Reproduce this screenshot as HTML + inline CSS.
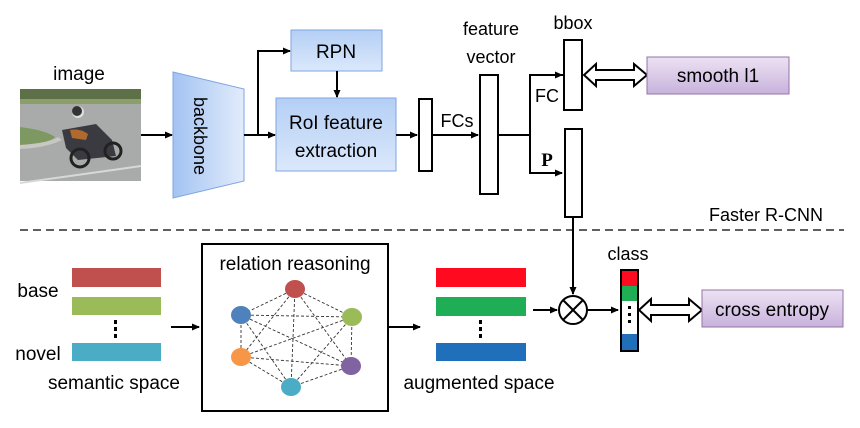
<!DOCTYPE html>
<html><head><meta charset="utf-8"><style>
html,body{margin:0;padding:0;background:#fff}
svg{display:block}
text{font-family:"Liberation Sans",sans-serif;fill:#000}
</style></head><body>
<svg width="860" height="428" viewBox="0 0 860 428" xmlns="http://www.w3.org/2000/svg">
<defs>
<linearGradient id="bl" x1="0" y1="0" x2="0" y2="1"><stop offset="0" stop-color="#b4cff5"/><stop offset="1" stop-color="#dbe8fb"/></linearGradient>
<linearGradient id="bb" x1="0" y1="0" x2="1" y2="0"><stop offset="0" stop-color="#a3c3f2"/><stop offset="1" stop-color="#e2ecfb"/></linearGradient>
<linearGradient id="pu" x1="0" y1="0" x2="0" y2="1"><stop offset="0" stop-color="#ece2f3"/><stop offset="1" stop-color="#c8b2dc"/></linearGradient>
<marker id="ah" markerWidth="8" markerHeight="8" refX="7" refY="4" orient="auto" markerUnits="userSpaceOnUse"><path d="M0,0.5 L8,4 L0,7.5 Z" fill="#000"/></marker>
</defs>

<!-- photo -->
<rect x="20" y="89" width="121" height="92" fill="#a9abab"/>
<rect x="20" y="89" width="121" height="12" fill="#5d7048"/>
<rect x="20" y="99" width="121" height="5" fill="#8c9f6b"/>
<path d="M20,127 Q45,130 55,137 Q50,143 20,145 Z" fill="#7d9860"/>
<path d="M20,145 Q50,143 58,137 L62,140 Q45,148 20,149 Z" fill="#c9c7c2"/>
<path d="M20,182 L141,165 L141,167 L20,184 Z" fill="#d8d8d8"/>
<path d="M62,130 L96,124 L112,140 L116,156 L78,160 L66,148 Z" fill="#3a3a40"/>
<circle cx="78" cy="112" r="6" fill="#ddd"/>
<circle cx="77" cy="111" r="5" fill="#333"/>
<path d="M70,130 Q80,128 88,134 L86,140 L72,138 Z" fill="#b06a30"/>
<circle cx="80" cy="158" r="9" fill="none" stroke="#222" stroke-width="3"/>
<circle cx="113" cy="151" r="8" fill="none" stroke="#222" stroke-width="3"/>

<text x="79" y="80" font-size="19" text-anchor="middle">image</text>
<line x1="141" y1="135" x2="172" y2="135" stroke="#000" stroke-width="2" marker-end="url(#ah)"/>

<!-- backbone -->
<polygon points="173,72 244,89 244,181 173,198" fill="url(#bb)" stroke="#7ea6e0" stroke-width="1"/>
<text x="0" y="0" font-size="18" text-anchor="middle" transform="translate(194,136) rotate(90)">backbone</text>

<path d="M244,135 L275,135" stroke="#000" stroke-width="2" fill="none" marker-end="url(#ah)"/>
<path d="M258,135 L258,51 L290,51" stroke="#000" stroke-width="2" fill="none" marker-end="url(#ah)"/>

<rect x="291" y="30" width="91" height="41" fill="url(#bl)" stroke="#7ea6e0"/>
<text x="336" y="58" font-size="19" text-anchor="middle">RPN</text>
<line x1="337" y1="71" x2="337" y2="97" stroke="#000" stroke-width="2" marker-end="url(#ah)"/>
<rect x="276" y="98" width="120" height="73" fill="url(#bl)" stroke="#7ea6e0"/>
<text x="336" y="129" font-size="19" text-anchor="middle">RoI feature</text>
<text x="336" y="157" font-size="19" text-anchor="middle">extraction</text>

<line x1="396" y1="135" x2="417" y2="135" stroke="#000" stroke-width="2" marker-end="url(#ah)"/>
<rect x="419" y="99" width="13" height="72" fill="#fff" stroke="#000" stroke-width="2"/>
<text x="457" y="127" font-size="18" text-anchor="middle">FCs</text>
<line x1="432" y1="135" x2="478" y2="135" stroke="#000" stroke-width="2" marker-end="url(#ah)"/>
<text x="491" y="35" font-size="18" text-anchor="middle">feature</text>
<text x="491" y="63" font-size="18" text-anchor="middle">vector</text>
<rect x="480" y="75" width="18" height="119" fill="#fff" stroke="#000" stroke-width="2"/>
<line x1="498" y1="135" x2="530" y2="135" stroke="#000" stroke-width="2"/>
<path d="M563,75 L530,75 L530,173 L562,173" stroke="#000" stroke-width="2" fill="none"/>
<path d="M540,75 L562,75" stroke="#000" stroke-width="2" marker-end="url(#ah)"/>
<path d="M540,173 L562,173" stroke="#000" stroke-width="2" marker-end="url(#ah)"/>
<text x="573" y="29" font-size="18" text-anchor="middle">bbox</text>
<rect x="564" y="40" width="18" height="70" fill="#fff" stroke="#000" stroke-width="2"/>
<text x="547" y="102" font-size="18" text-anchor="middle">FC</text>
<text x="547" y="166" font-size="19" font-weight="bold" text-anchor="middle" style="font-family:'Liberation Serif',serif">P</text>
<rect x="565" y="129" width="17" height="88" fill="#fff" stroke="#000" stroke-width="2"/>

<!-- double arrow top -->
<polygon points="584,75 596,64 596,70 634,70 634,64 647,75 634,86 634,80 596,80 596,86" fill="#fff" stroke="#000" stroke-width="2" stroke-linejoin="miter"/>
<rect x="647" y="57" width="142" height="37" fill="url(#pu)" stroke="#9673a6"/>
<text x="718" y="82" font-size="19" text-anchor="middle">smooth l1</text>

<!-- dashed -->
<line x1="20" y1="230" x2="844" y2="230" stroke="#000" stroke-width="1.3" stroke-dasharray="8,5"/>
<text x="766" y="221" font-size="18" text-anchor="middle">Faster R-CNN</text>

<!-- semantic -->
<rect x="72" y="268" width="89" height="19" fill="#c0504d"/>
<rect x="72" y="297" width="89" height="18" fill="#9bbb59"/>
<rect x="72" y="343" width="89" height="18" fill="#4bacc6"/>
<rect x="114" y="320" width="3" height="4" fill="#000"/><rect x="114" y="327" width="3" height="4" fill="#000"/><rect x="114" y="334" width="3" height="4" fill="#000"/>
<text x="38" y="297" font-size="19" text-anchor="middle">base</text>
<text x="38" y="360" font-size="19" text-anchor="middle">novel</text>
<text x="114" y="389" font-size="19" text-anchor="middle">semantic space</text>
<line x1="171" y1="327" x2="199" y2="327" stroke="#000" stroke-width="2" marker-end="url(#ah)"/>

<!-- relation box -->
<rect x="202" y="244" width="186" height="167" fill="#fff" stroke="#000" stroke-width="2"/>
<text x="295" y="270" font-size="19" text-anchor="middle">relation reasoning</text>
<g stroke="#333" stroke-width="0.9" stroke-dasharray="3,2">
<line x1="295" y1="289" x2="241" y2="315"/><line x1="295" y1="289" x2="352" y2="317"/><line x1="295" y1="289" x2="241" y2="357"/><line x1="295" y1="289" x2="351" y2="366"/><line x1="295" y1="289" x2="291" y2="387"/>
<line x1="241" y1="315" x2="352" y2="317"/><line x1="241" y1="315" x2="241" y2="357"/><line x1="241" y1="315" x2="351" y2="366"/><line x1="241" y1="315" x2="291" y2="387"/>
<line x1="352" y1="317" x2="241" y2="357"/><line x1="352" y1="317" x2="351" y2="366"/><line x1="352" y1="317" x2="291" y2="387"/>
<line x1="241" y1="357" x2="351" y2="366"/><line x1="241" y1="357" x2="291" y2="387"/>
<line x1="351" y1="366" x2="291" y2="387"/>
</g>
<ellipse cx="295" cy="289" rx="10" ry="9" fill="#c0504d"/>
<ellipse cx="241" cy="315" rx="10" ry="9" fill="#4f81bd"/>
<ellipse cx="352" cy="317" rx="10" ry="9" fill="#9bbb59"/>
<ellipse cx="241" cy="357" rx="10" ry="9" fill="#f79646"/>
<ellipse cx="351" cy="366" rx="10" ry="9" fill="#8064a2"/>
<ellipse cx="291" cy="387" rx="10" ry="9" fill="#4bacc6"/>
<line x1="389" y1="327" x2="420" y2="327" stroke="#000" stroke-width="2" marker-end="url(#ah)"/>

<!-- augmented -->
<rect x="436" y="268" width="90" height="19" fill="#ff0a1e"/>
<rect x="436" y="297" width="90" height="19" fill="#1fae55"/>
<rect x="436" y="343" width="90" height="18" fill="#1f6fba"/>
<rect x="479" y="320" width="3" height="4" fill="#000"/><rect x="479" y="327" width="3" height="4" fill="#000"/><rect x="479" y="334" width="3" height="4" fill="#000"/>
<text x="479" y="389" font-size="19" text-anchor="middle">augmented space</text>
<line x1="533" y1="310" x2="557" y2="310" stroke="#000" stroke-width="2" marker-end="url(#ah)"/>

<line x1="573" y1="217" x2="573" y2="294" stroke="#000" stroke-width="2" marker-end="url(#ah)"/>
<circle cx="573" cy="310" r="14" fill="#fff" stroke="#000" stroke-width="2"/>
<line x1="563" y1="300" x2="583" y2="320" stroke="#000" stroke-width="2"/>
<line x1="583" y1="300" x2="563" y2="320" stroke="#000" stroke-width="2"/>
<line x1="587" y1="310" x2="618" y2="310" stroke="#000" stroke-width="2" marker-end="url(#ah)"/>

<text x="628" y="260" font-size="18" text-anchor="middle">class</text>
<rect x="621" y="270" width="17" height="81" fill="#fff"/>
<rect x="621" y="270" width="17" height="16" fill="#ff0a1e"/>
<rect x="621" y="286" width="17" height="15" fill="#1fae55"/>
<rect x="621" y="334" width="17" height="17" fill="#1f6fba"/>
<rect x="621" y="270" width="17" height="81" fill="none" stroke="#000" stroke-width="2"/>
<rect x="628" y="306" width="3" height="3" fill="#000"/><rect x="628" y="313" width="3" height="3" fill="#000"/><rect x="628" y="320" width="3" height="3" fill="#000"/>

<polygon points="639,310 651,299 651,305 689,305 689,299 702,310 689,321 689,315 651,315 651,321" fill="#fff" stroke="#000" stroke-width="2"/>
<rect x="702" y="290" width="141" height="37" fill="url(#pu)" stroke="#9673a6"/>
<text x="772" y="316" font-size="19" text-anchor="middle">cross entropy</text>
</svg>
</body></html>
